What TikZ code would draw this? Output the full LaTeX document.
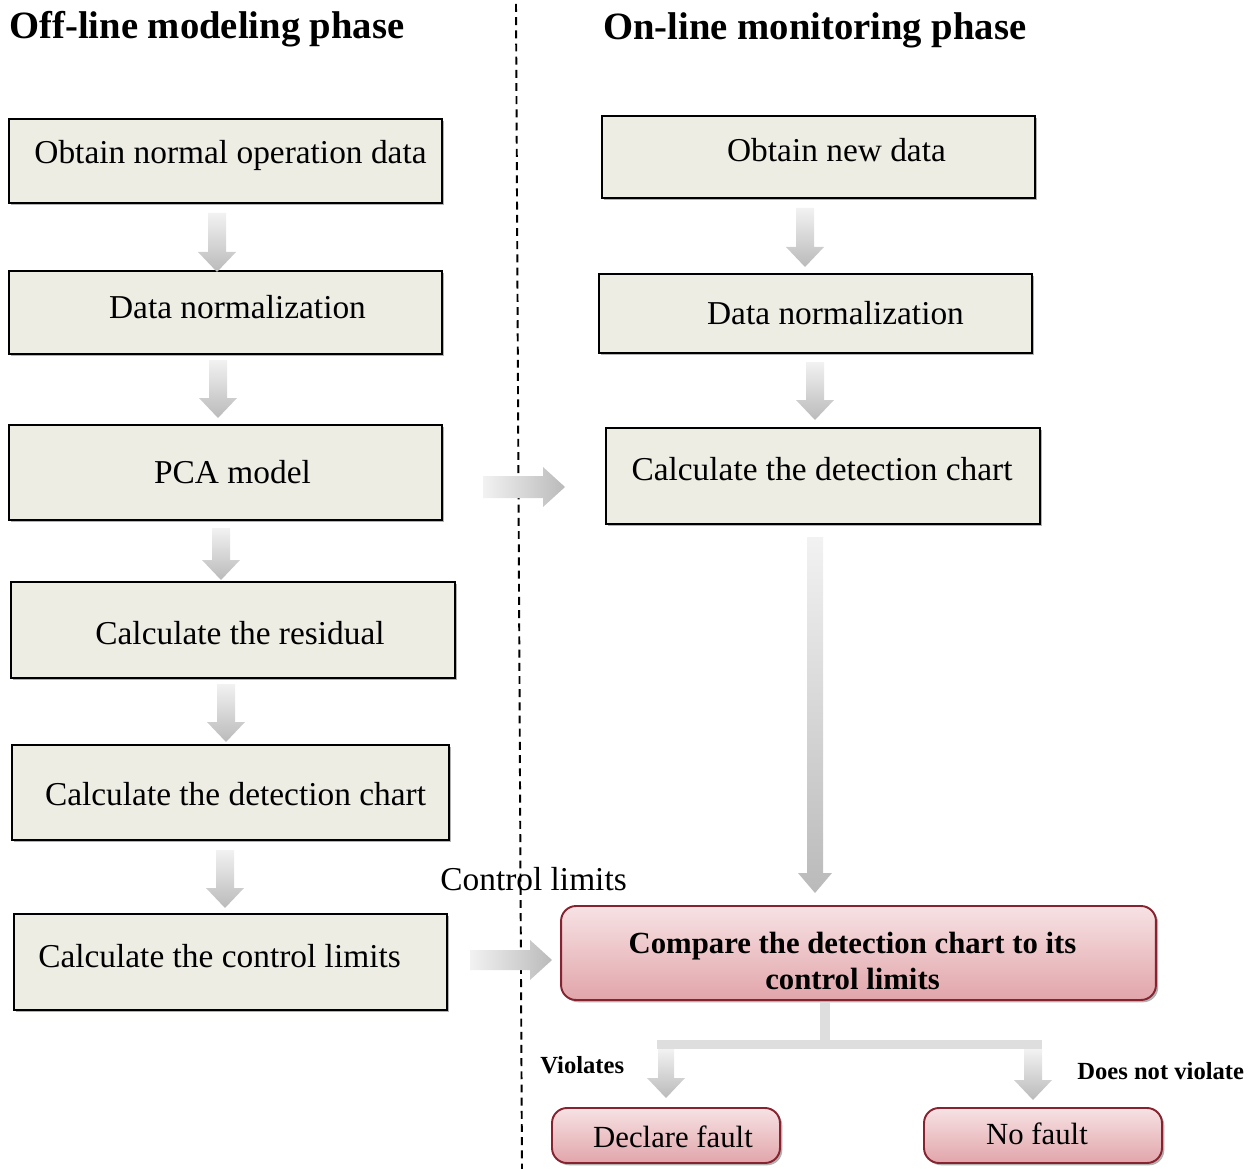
\documentclass[tikz,border=0pt]{standalone}
\usepackage{fontspec}
\setmainfont{Liberation Serif}
\usetikzlibrary{shadows,calc}
\definecolor{gfill}{RGB}{238,237,227}
\definecolor{pinkT}{RGB}{247,226,228}
\definecolor{pinkB}{RGB}{225,165,170}
\definecolor{pinkD}{RGB}{135,35,48}
\definecolor{arrT}{RGB}{242,242,242}
\definecolor{arrB}{RGB}{186,186,186}
\definecolor{barC}{RGB}{222,222,222}
% down block arrow: cx, ytop, yhead, ytip, shaft half width, head half width
\newcommand\dnarrow[6]{%
 \path[top color=arrT,bottom color=arrB] ({#1-#5},#2) -- ({#1+#5},#2) -- ({#1+#5},#3) -- ({#1+#6},#3) -- (#1,#4) -- ({#1-#6},#3) -- ({#1-#5},#3) -- cycle;}
% right block arrow: cy, xleft, xhead, xtip, shaft half width, head half width
\newcommand\rtarrow[6]{%
 \path[left color=arrT,right color=arrB] (#2,{#1-#5}) -- (#3,{#1-#5}) -- (#3,{#1-#6}) -- (#4,#1) -- (#3,{#1+#6}) -- (#3,{#1+#5}) -- (#2,{#1+#5}) -- cycle;}
\begin{document}
\begin{tikzpicture}[x=0.02cm,y=-0.02cm,
  gbox/.style={draw=black, line width=1.1pt, fill=gfill, inner sep=0pt,
    drop shadow={shadow xshift=1.3pt,shadow yshift=-1.3pt,opacity=0.3,fill=black}},
  pbox/.style={draw=pinkD, line width=1.1pt, rounded corners=0.3cm, inner sep=0pt,
    top color=pinkT, bottom color=pinkB,
    drop shadow={shadow xshift=1.3pt,shadow yshift=-1.3pt,opacity=0.3,fill=black}},
  txt/.style={font=\fontsize{19}{23}\selectfont, inner sep=0pt},
  ptxt/.style={font=\fontsize{17.5}{21}\selectfont, inner sep=0pt},
  head/.style={anchor=west, font=\bfseries\fontsize{22}{26}\selectfont, inner sep=0pt},
  lab/.style={anchor=west, font=\bfseries\fontsize{14}{17}\selectfont, inner sep=0pt},
  plain/.style={anchor=west, font=\fontsize{19}{23}\selectfont, inner sep=0pt}]
\useasboundingbox (0,0) rectangle (1258,1169);

% headers
\node[head] (h1) at (9,29) {Off-line modeling phase};
\node[head] (h2) at (603,30) {On-line monitoring phase};

% dashed divider
\coordinate (dtop) at (516,4);
\coordinate (dbot) at (522,1169);
\draw[line width=1.1pt, dash pattern=on 4.5pt off 3pt] (dtop) -- (dbot);

% left column
\node[gbox, minimum width=8.66cm, minimum height=1.68cm] (l1) at (225.5,161) {};
\node[gbox, minimum width=8.66cm, minimum height=1.66cm] (l2) at (225.5,312.5) {};
\node[gbox, minimum width=8.66cm, minimum height=1.90cm] (l3) at (225.5,472.5) {};
\node[gbox, minimum width=8.88cm, minimum height=1.92cm] (l4) at (233,630) {};
\node[gbox, minimum width=8.74cm, minimum height=1.90cm] (l5) at (230.5,792.5) {};
\node[gbox, minimum width=8.66cm, minimum height=1.92cm] (l6) at (230.5,962) {};
\node[txt] (l1t) at ($(l1.center)+(5,-6)$) {Obtain normal operation data};
\node[txt] (l2t) at ($(l2.center)+(12,-5)$) {Data normalization};
\node[txt] (l3t) at ($(l3.center)+(7,0)$) {PCA model};
\node[txt] (l4t) at ($(l4.center)+(7,3)$) {Calculate the residual};
\node[txt] (l5t) at ($(l5.center)+(5,2)$) {Calculate the detection chart};
\node[txt] (l6t) at ($(l6.center)+(-11,-6)$) {Calculate the control limits};

% right column
\node[gbox, minimum width=8.66cm, minimum height=1.64cm] (r1) at (818.5,157) {};
\node[gbox, minimum width=8.66cm, minimum height=1.58cm] (r2) at (815.5,313.5) {};
\node[gbox, minimum width=8.68cm, minimum height=1.92cm] (r3) at (823,476) {};
\node[txt] (r1t) at ($(r1.center)+(18,-7)$) {Obtain new data};
\node[txt] (r2t) at ($(r2.center)+(20,0)$) {Data normalization};
\node[txt] (r3t) at ($(r3.center)+(-1,-7)$) {Calculate the detection chart};

\node[pbox, minimum width=11.9cm, minimum height=1.88cm] (cmp) at (858.5,953) {};
\node[pbox, minimum width=4.56cm, minimum height=1.10cm] (df) at (666,1135.5) {};
\node[pbox, minimum width=4.76cm, minimum height=1.10cm] (nf) at (1043,1135.5) {};
\node[inner sep=0pt, align=center, font=\bfseries\fontsize{17.5}{20.5}\selectfont] (cmpt)
  at ($(cmp.center)+(-6,8)$) {Compare the detection chart to its\\control limits};
\node[ptxt] (dft) at ($(df.center)+(7,1)$) {Declare fault};
\node[ptxt] (nft) at ($(nf.center)+(-6,-2)$) {No fault};

% labels
\node[plain] (cl) at (440,879) {Control limits};
\node[lab] (vio) at (540,1065) {Violates};
\node[lab] (nvio) at (1077,1071) {Does not violate};

% left down arrows
\dnarrow{217}{213}{252}{272}{9}{19}
\dnarrow{218}{360}{398}{418}{9}{19}
\dnarrow{221}{528}{560}{580}{9}{19}
\dnarrow{226}{684}{722}{742}{9}{19}
\dnarrow{225}{850}{888}{908}{9}{19}

% right down arrows
\dnarrow{805}{208}{247}{267}{9}{19}
\dnarrow{815}{362}{400}{420}{9}{19}
\dnarrow{815}{537}{873}{893}{8}{17}

% horizontal arrows
\rtarrow{487}{483}{543}{565}{11}{20}
\rtarrow{960}{470}{530}{552}{10}{20}

% branch
\path[fill=barC] (820,1002) rectangle (830,1044);
\path[fill=barC] (657,1040) rectangle (1042,1049);
\dnarrow{666}{1049}{1078}{1098}{8}{19}
\dnarrow{1033}{1049}{1080}{1100}{9}{19}
\end{tikzpicture}
\end{document}
